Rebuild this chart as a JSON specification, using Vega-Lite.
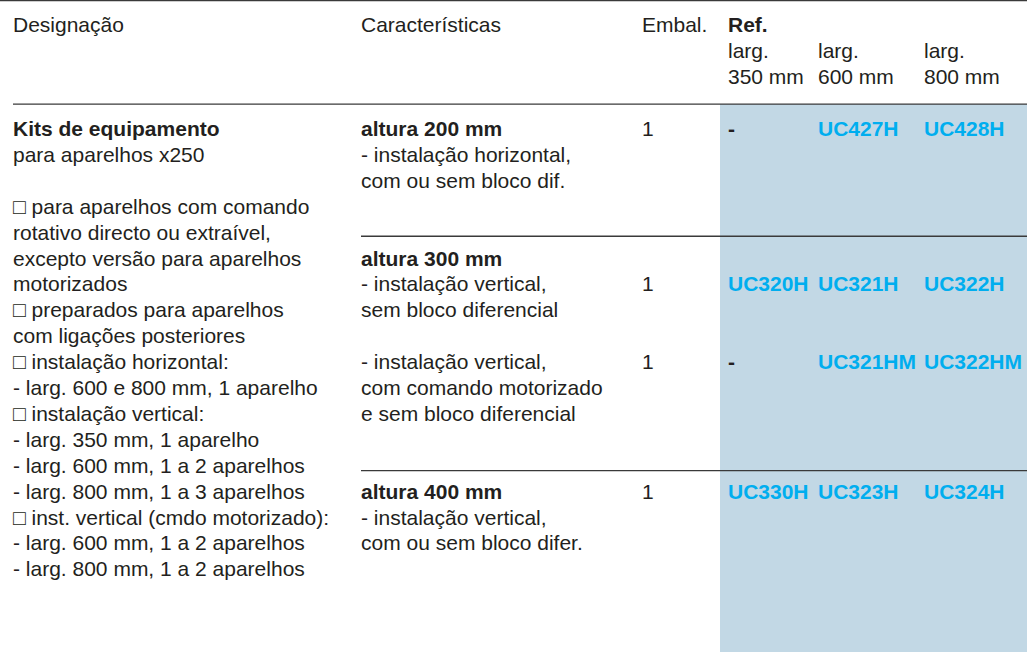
{
  "$schema": "https://vega.github.io/schema/vega-lite/v6.json",
  "width": 1027,
  "height": 652,
  "autosize": {"type": "none"},
  "padding": 0,
  "background": "#ffffff",
  "config": {"view": {"stroke": null}, "text": {"font": "Liberation Sans", "fontSize": 21, "align": "left", "baseline": "middle"}},
  "datasets": {
    "cells": [
      {"column": 0, "line": -4, "kind": "plain", "label": "Designação"},
      {"column": 1, "line": -4, "kind": "plain", "label": "Características"},
      {"column": 2, "line": -4, "kind": "plain", "label": "Embal."},
      {"column": 3, "line": -4, "kind": "bold", "label": "Ref."},
      {"column": 3, "line": -3, "kind": "plain", "label": "larg."},
      {"column": 4, "line": -3, "kind": "plain", "label": "larg."},
      {"column": 5, "line": -3, "kind": "plain", "label": "larg."},
      {"column": 3, "line": -2, "kind": "plain", "label": "350 mm"},
      {"column": 4, "line": -2, "kind": "plain", "label": "600 mm"},
      {"column": 5, "line": -2, "kind": "plain", "label": "800 mm"},

      {"column": 0, "line": 0, "kind": "bold", "label": "Kits de equipamento"},
      {"column": 0, "line": 1, "kind": "plain", "label": "para aparelhos x250"},
      {"column": 0, "line": 3, "kind": "plain", "label": "□ para aparelhos com comando"},
      {"column": 0, "line": 4, "kind": "plain", "label": "rotativo directo ou extraível,"},
      {"column": 0, "line": 5, "kind": "plain", "label": "excepto versão para aparelhos"},
      {"column": 0, "line": 6, "kind": "plain", "label": "motorizados"},
      {"column": 0, "line": 7, "kind": "plain", "label": "□ preparados para aparelhos"},
      {"column": 0, "line": 8, "kind": "plain", "label": "com ligações posteriores"},
      {"column": 0, "line": 9, "kind": "plain", "label": "□ instalação horizontal:"},
      {"column": 0, "line": 10, "kind": "plain", "label": "- larg. 600 e 800 mm, 1 aparelho"},
      {"column": 0, "line": 11, "kind": "plain", "label": "□ instalação vertical:"},
      {"column": 0, "line": 12, "kind": "plain", "label": "- larg. 350 mm, 1 aparelho"},
      {"column": 0, "line": 13, "kind": "plain", "label": "- larg. 600 mm, 1 a 2 aparelhos"},
      {"column": 0, "line": 14, "kind": "plain", "label": "- larg. 800 mm, 1 a 3 aparelhos"},
      {"column": 0, "line": 15, "kind": "plain", "label": "□ inst. vertical (cmdo motorizado):"},
      {"column": 0, "line": 16, "kind": "plain", "label": "- larg. 600 mm, 1 a 2 aparelhos"},
      {"column": 0, "line": 17, "kind": "plain", "label": "- larg. 800 mm, 1 a 2 aparelhos"},

      {"column": 1, "line": 0, "kind": "bold", "label": "altura 200 mm"},
      {"column": 1, "line": 1, "kind": "plain", "label": "- instalação horizontal,"},
      {"column": 1, "line": 2, "kind": "plain", "label": "com ou sem bloco dif."},
      {"column": 1, "line": 5, "kind": "bold", "label": "altura 300 mm"},
      {"column": 1, "line": 6, "kind": "plain", "label": "- instalação vertical,"},
      {"column": 1, "line": 7, "kind": "plain", "label": "sem bloco diferencial"},
      {"column": 1, "line": 9, "kind": "plain", "label": "- instalação vertical,"},
      {"column": 1, "line": 10, "kind": "plain", "label": "com comando motorizado"},
      {"column": 1, "line": 11, "kind": "plain", "label": "e sem bloco diferencial"},
      {"column": 1, "line": 14, "kind": "bold", "label": "altura 400 mm"},
      {"column": 1, "line": 15, "kind": "plain", "label": "- instalação vertical,"},
      {"column": 1, "line": 16, "kind": "plain", "label": "com ou sem bloco difer."},

      {"column": 2, "line": 0, "kind": "plain", "label": "1"},
      {"column": 2, "line": 6, "kind": "plain", "label": "1"},
      {"column": 2, "line": 9, "kind": "plain", "label": "1"},
      {"column": 2, "line": 14, "kind": "plain", "label": "1"},

      {"column": 3, "line": 0, "kind": "bold", "label": "-"},
      {"column": 4, "line": 0, "kind": "code", "label": "UC427H"},
      {"column": 5, "line": 0, "kind": "code", "label": "UC428H"},
      {"column": 3, "line": 6, "kind": "code", "label": "UC320H"},
      {"column": 4, "line": 6, "kind": "code", "label": "UC321H"},
      {"column": 5, "line": 6, "kind": "code", "label": "UC322H"},
      {"column": 3, "line": 9, "kind": "bold", "label": "-"},
      {"column": 4, "line": 9, "kind": "code", "label": "UC321HM"},
      {"column": 5, "line": 9, "kind": "code", "label": "UC322HM"},
      {"column": 3, "line": 14, "kind": "code", "label": "UC330H"},
      {"column": 4, "line": 14, "kind": "code", "label": "UC323H"},
      {"column": 5, "line": 14, "kind": "code", "label": "UC324H"}
    ]
  },
  "resolve": {"scale": {"x": "shared", "y": "shared"}},
  "layer": [
    {
      "data": {"values": [{}]},
      "mark": {"type": "rect", "color": "#c2d8e5"},
      "encoding": {
        "x": {"datum": 2.9, "type": "quantitative", "scale": {"domain": [-1, 0, 1, 2, 2.9, 3, 4, 5, 6], "range": [0, 13, 361, 642, 720, 728, 818, 924, 1027], "zero": false, "nice": false}, "axis": null},
        "x2": {"datum": 6},
        "y": {"datum": -1, "type": "quantitative", "scale": {"domain": [-5, 20.15], "range": [0.5, 652], "zero": false, "nice": false}, "axis": null},
        "y2": {"datum": 20.15}
      }
    },
    {
      "data": {"values": [{}]},
      "mark": {"type": "rule", "color": "#3a3a3a", "strokeWidth": 1.6},
      "encoding": {"x": {"datum": -1, "type": "quantitative"}, "x2": {"datum": 6}, "y": {"datum": -5, "type": "quantitative"}}
    },
    {
      "data": {"values": [{}]},
      "mark": {"type": "rule", "color": "#3a3a3a", "strokeWidth": 1.4},
      "encoding": {"x": {"datum": 0, "type": "quantitative"}, "x2": {"datum": 6}, "y": {"datum": -1, "type": "quantitative"}}
    },
    {
      "data": {"values": [{}]},
      "mark": {"type": "rule", "color": "#3a3a3a", "strokeWidth": 1.4},
      "encoding": {"x": {"datum": 1, "type": "quantitative"}, "x2": {"datum": 6}, "y": {"datum": 4.1, "type": "quantitative"}}
    },
    {
      "data": {"values": [{}]},
      "mark": {"type": "rule", "color": "#3a3a3a", "strokeWidth": 1.4},
      "encoding": {"x": {"datum": 1, "type": "quantitative"}, "x2": {"datum": 6}, "y": {"datum": 13.15, "type": "quantitative"}}
    },
    {
      "data": {"name": "cells"},
      "transform": [{"filter": "datum.kind === 'plain'"}],
      "mark": {"type": "text", "color": "#231f20"},
      "encoding": {
        "x": {"field": "column", "type": "quantitative"},
        "y": {"field": "line", "type": "quantitative"},
        "text": {"field": "label"}
      }
    },
    {
      "data": {"name": "cells"},
      "transform": [{"filter": "datum.kind === 'bold'"}],
      "mark": {"type": "text", "color": "#231f20", "fontWeight": "bold"},
      "encoding": {
        "x": {"field": "column", "type": "quantitative"},
        "y": {"field": "line", "type": "quantitative"},
        "text": {"field": "label"}
      }
    },
    {
      "data": {"name": "cells"},
      "transform": [{"filter": "datum.kind === 'code'"}],
      "mark": {"type": "text", "color": "#00aeef", "fontWeight": "bold"},
      "encoding": {
        "x": {"field": "column", "type": "quantitative"},
        "y": {"field": "line", "type": "quantitative"},
        "text": {"field": "label"}
      }
    }
  ]
}
